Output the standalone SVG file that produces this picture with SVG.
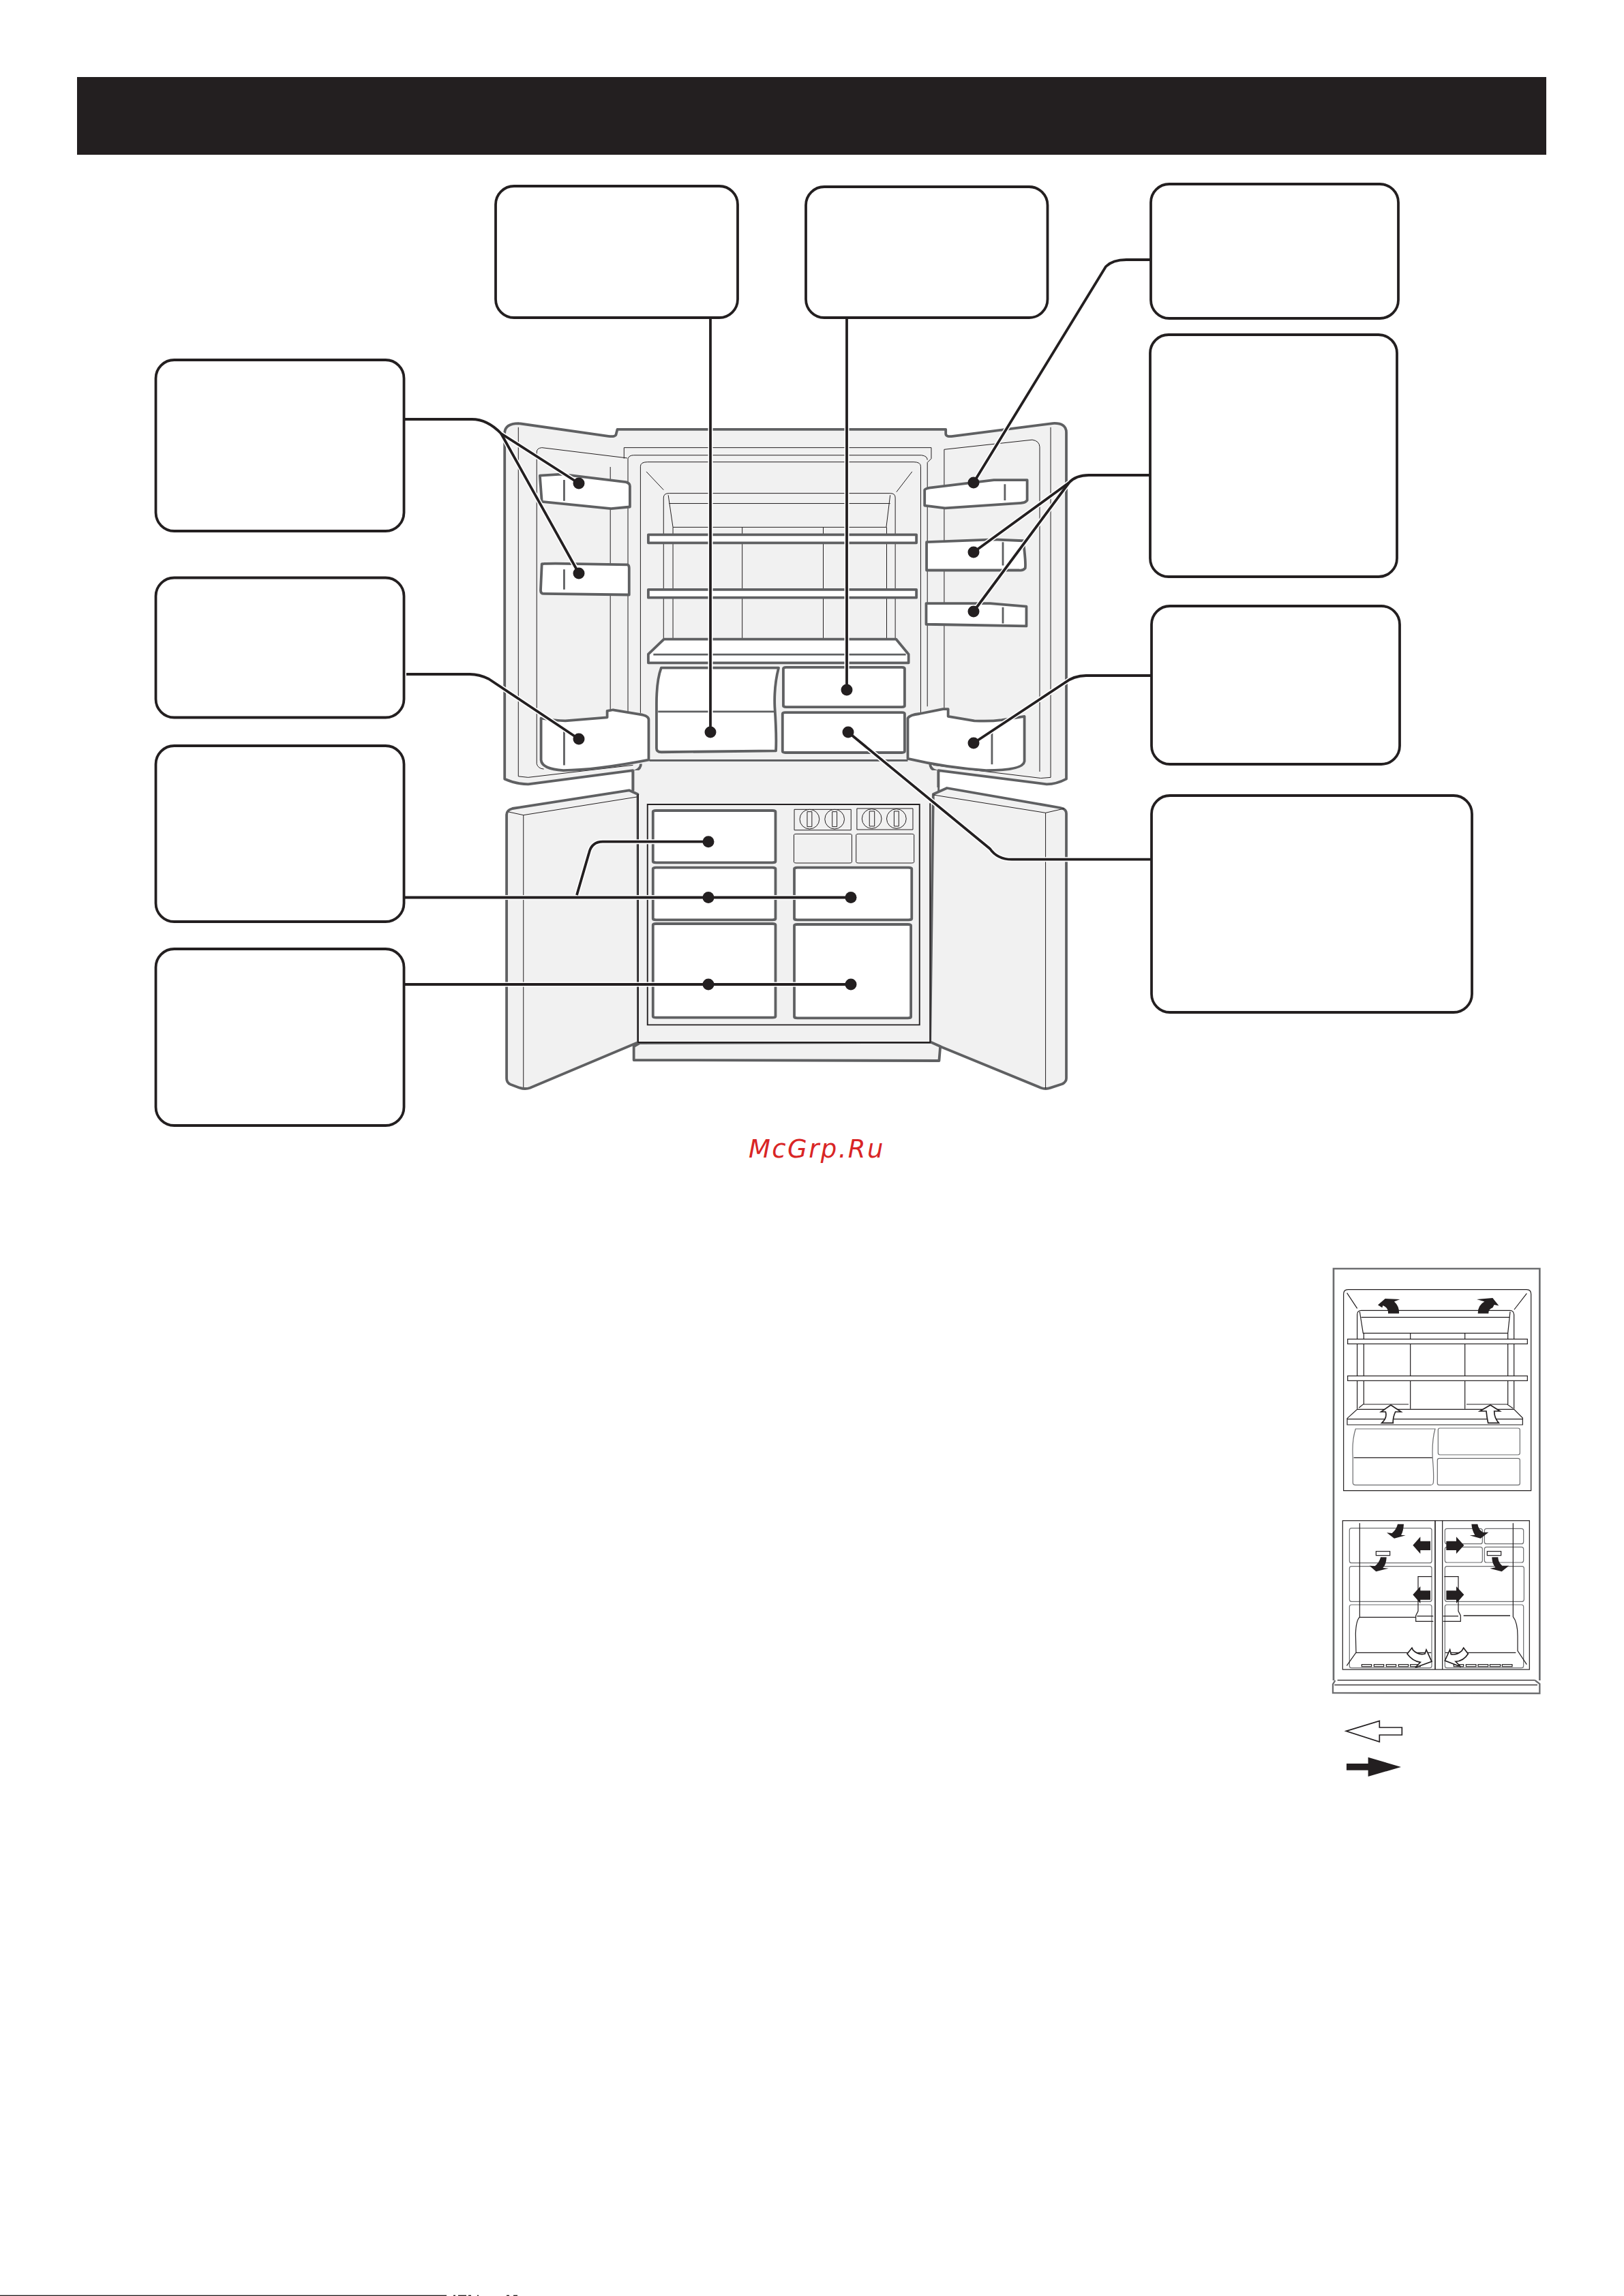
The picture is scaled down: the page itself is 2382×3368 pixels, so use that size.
<svg xmlns="http://www.w3.org/2000/svg" width="2382" height="3368" viewBox="0 0 2382 3368">
<style>
.fr *{vector-effect:non-scaling-stroke}
.g{fill:none;stroke:#5f6062;stroke-width:3.8;stroke-linejoin:round}
.gf{fill:#f1f1f1;stroke:#5f6062;stroke-width:3.8;stroke-linejoin:round}
.w{fill:#fff;stroke:#5f6062;stroke-width:3.8;stroke-linejoin:round}
.gm{stroke:#5f6062;stroke-width:2.8;fill:none}
.t{fill:none;stroke:#231f20;stroke-width:1}
.tf{fill:#f1f1f1;stroke:#231f20;stroke-width:1}
.k{fill:none;stroke:#231f20;stroke-width:1.9}
.box{fill:#fff;stroke:#231f20;stroke-width:3.8}
.con{fill:none;stroke:#231f20;stroke-width:3.8;stroke-linejoin:round}
.halo{fill:none;stroke:#fff;stroke-width:7;stroke-linejoin:round}
.dot{fill:#231f20}
.s{fill:none;stroke:#231f20;stroke-width:3.6}
.sg{fill:none;stroke:#6d6e70;stroke-width:3.6}
.sw{fill:#fff;stroke:#231f20;stroke-width:3.6}
.ab{fill:#231f20;stroke:none}
.aw{fill:#fff;stroke:#231f20;stroke-width:5;stroke-linejoin:miter}
.wm{font-family:"DejaVu Sans",sans-serif;font-style:oblique;font-size:37px;fill:#d92525;letter-spacing:2.4px}
</style>
<defs>
<path id="c-a" d="M1042 468V1074"/>
<path id="c-b" d="M1242 468V1012"/>
<path id="c-c" d="M1688 381H1652Q1632 381 1622 391L1428 708"/>
<path id="c-d1" d="M1687 697H1597Q1578 697 1568 708L1428 810"/>
<path id="c-d2" d="M1568 708L1428 897"/>
<path id="c-e1" d="M594 615H692Q715 615 735 636L849 709"/>
<path id="c-e2" d="M735 636L849 841"/>
<path id="c-f" d="M596 989H689Q703 989 717 996L849 1084"/>
<path id="c-g1" d="M594 1316.500H1248"/>
<path id="c-g2" d="M846 1313L864 1251Q868 1234.700 884 1234.700H1039"/>
<path id="c-h" d="M594 1444H1248"/>
<path id="c-i" d="M1689 991H1593Q1575 991 1561 1002L1428 1090"/>
<path id="c-j" d="M1689 1260.700H1484Q1463 1260.700 1452 1245L1244 1074"/>
</defs>
<rect id="header" x="113" y="113" width="2155" height="114" fill="#231f20"/>

<g id="fridge" class="fr">
<g id="fridge-upper" transform="translate(700,600) scale(0.5741,0.3827)">
<path class="gf" d="M70 90Q72 55 105 55L335 104Q355 108 355 95L358 78H1197V95Q1197 108 1215 104L1470 55Q1505 52 1505 90V1418Q1480 1438 1455 1438L1178 1385V1480H398V1385L130 1438Q100 1438 70 1418Z"/>
<path fill="#f1f1f1" d="M400 1380H1176V1568H400Z"/>
<path class="g" d="M398 1390L405 1386Q418 1378 418 1360M1178 1390L1170 1386Q1157 1378 1157 1360"/>
<path class="t" d="M105 70V1408L130 1412L398 1365M1465 70V1412L1440 1415L1165 1365"/>
<path class="t" d="M383 188L165 148Q152 150 152 165V1360Q155 1378 170 1380M1193 155L1418 118Q1436 122 1437 145V1390M340 222V1155M385 190V1170M1193 155V1170"/>
<path class="t" d="M375 190V148H1160V190L1150 205V1140M385 190Q388 177 400 177H1135Q1150 180 1150 195M417 1165V220Q417 203 435 203H1115Q1133 203 1133 220V1165"/>
<path class="t" d="M432 240L476 310M1111 240L1071 318M476 880V340Q476 323 490 323H1055Q1068 323 1068 340V880M488 330L500 453H1045L1055 330M490 362H1055M500 453V880M1046 453V880M677 453V880M884 453V880"/>
<rect class="w" x="437" y="482" width="685" height="31"/>
<rect class="w" x="437" y="692" width="685" height="31"/>
<path class="w" d="M437 940L477 882H1070L1102 940V973H437Z"/>
<path class="gm" d="M450 941H1095"/>
<path class="w" d="M470 992H770Q758 1060 760 1140Q765 1250 763 1310L470 1315Q458 1315 458 1300V1130Q458 1040 470 992Z"/>
<path class="gm" d="M462 1160H758"/>
<rect class="w" x="782" y="990" width="310" height="152" rx="7" ry="5"/>
<rect class="w" x="780" y="1163" width="312" height="154" rx="7" ry="5"/>
<path class="gm" d="M440 1347H1100"/>
<path class="w" d="M160 255L215 250L380 280Q390 285 390 295V375L342 382L165 355Z"/>
<path class="w" d="M165 595Q162 592 200 592L385 597Q388 600 388 610V712L170 708Q162 708 162 695Z"/>
<path class="w" d="M163 1185Q200 1195 225 1195L332 1182V1157L347 1153L415 1170Q438 1175 438 1190V1345Q300 1385 220 1385Q165 1380 163 1345Z"/>
<path class="w" d="M1143 310Q1145 305 1155 302L1320 272H1405V350Q1400 360 1390 360L1195 380L1143 370Z"/>
<path class="w" d="M1148 510L1320 500L1395 505Q1402 590 1400 610Q1395 620 1385 618H1148Z"/>
<path class="w" d="M1147 745L1310 745L1403 757V832L1147 825Z"/>
<path class="w" d="M1100 1185Q1105 1172 1130 1168L1190 1150H1203V1178L1270 1195Q1310 1198 1340 1192L1398 1178V1350Q1395 1385 1300 1385Q1200 1375 1100 1340Z"/>
<path class="gm" d="M222 272V352M222 615V692M222 1235V1365M1348 288V350M1343 510V600M1343 760V822M1315 1235V1362"/>
</g>
<g id="fridge-lower" transform="translate(700,1130) scale(0.5741,0.33333)">
<rect x="400" y="0" width="776" height="1197" fill="#f1f1f1"/>
<path class="g" d="M398 0V90M1178 0V75"/>
<path class="gf" d="M411 1197L135 1397Q123 1405 108 1397L85 1382Q75 1375 75 1355V195Q75 175 90 168L388 88L410 105Z"/>
<path class="gf" d="M1157 1197L1440 1397Q1452 1405 1465 1397L1495 1380Q1505 1370 1505 1355V190Q1505 170 1490 165L1200 78L1165 105Z"/>
<path class="gf" d="M415 1200L400 1215V1275L1180 1278L1183 1215L1160 1197Z"/>
<rect x="412" y="108" width="744" height="1088" fill="#f1f1f1"/>
<path class="k" d="M411 105V1197H1157V145"/>
<path class="t" d="M80 183L118 197L408 117M118 197V1395M1165 108L1452 187L1500 168M1452 187V1400"/>
<rect class="tf" style="stroke-width:1.9" x="435" y="150" width="695" height="970"/>
<rect class="w" x="449" y="177" width="313" height="229" rx="8" ry="5"/>
<rect class="w" x="449" y="428" width="313" height="230" rx="8" ry="5"/>
<rect class="w" x="810" y="428" width="300" height="230" rx="8" ry="5"/>
<rect class="w" x="449" y="675" width="313" height="413" rx="8" ry="5"/>
<rect class="w" x="810" y="678" width="298" height="412" rx="8" ry="5"/>
<rect class="tf" x="810" y="172" width="145" height="91"/>
<rect class="tf" x="970" y="168" width="143" height="93"/>
<rect class="tf" x="809" y="280" width="148" height="128" rx="6" ry="4"/>
<rect class="tf" x="968" y="280" width="148" height="128" rx="6" ry="4"/>
<ellipse class="tf" cx="849" cy="215" rx="25" ry="43"/><rect class="tf" x="843" y="182" width="12" height="66"/>
<ellipse class="tf" cx="913" cy="215" rx="25" ry="43"/><rect class="tf" x="907" y="182" width="12" height="66"/>
<ellipse class="tf" cx="1008" cy="213" rx="25" ry="43"/><rect class="tf" x="1002" y="180" width="13" height="66"/>
<ellipse class="tf" cx="1071" cy="213" rx="25" ry="43"/><rect class="tf" x="1065" y="180" width="12" height="66"/>
</g>
</g>

<g id="connectors">
<use href="#c-a" class="halo"/><use href="#c-b" class="halo"/><use href="#c-c" class="halo"/><use href="#c-d1" class="halo"/><use href="#c-d2" class="halo"/><use href="#c-e1" class="halo"/><use href="#c-e2" class="halo"/><use href="#c-f" class="halo"/><use href="#c-g1" class="halo"/><use href="#c-g2" class="halo"/><use href="#c-h" class="halo"/><use href="#c-i" class="halo"/><use href="#c-j" class="halo"/>
<use href="#c-a" class="con"/><use href="#c-b" class="con"/><use href="#c-c" class="con"/><use href="#c-d1" class="con"/><use href="#c-d2" class="con"/><use href="#c-e1" class="con"/><use href="#c-e2" class="con"/><use href="#c-f" class="con"/><use href="#c-g1" class="con"/><use href="#c-g2" class="con"/><use href="#c-h" class="con"/><use href="#c-i" class="con"/><use href="#c-j" class="con"/>
<g class="dot">
<circle cx="1042" cy="1074" r="8.500"/><circle cx="1242" cy="1012" r="8.500"/><circle cx="1428" cy="708" r="8.500"/><circle cx="1428" cy="810" r="8.500"/><circle cx="1428" cy="897" r="8.500"/><circle cx="849" cy="709" r="8.500"/><circle cx="849" cy="841" r="8.500"/><circle cx="849" cy="1084" r="8.500"/><circle cx="1428" cy="1090" r="8.500"/><circle cx="1244" cy="1074" r="8.500"/>
<circle cx="1039" cy="1234.700" r="8.500"/><circle cx="1039" cy="1316.500" r="8.500"/><circle cx="1248" cy="1316.500" r="8.500"/><circle cx="1039" cy="1444" r="8.500"/><circle cx="1248" cy="1444" r="8.500"/>
</g>
</g>

<g id="node-a"><rect class="box" x="727" y="273" width="355" height="193" rx="27"/></g>
<g id="node-b"><rect class="box" x="1182" y="274" width="354.500" height="192" rx="27"/></g>
<g id="node-c"><rect class="box" x="1688" y="270" width="363" height="197" rx="27"/></g>
<g id="node-d"><rect class="box" x="1687" y="491" width="362" height="355" rx="27"/></g>
<g id="node-e"><rect class="box" x="228.500" y="528" width="364" height="251" rx="27"/></g>
<g id="node-f"><rect class="box" x="228.500" y="847.500" width="364" height="205" rx="27"/></g>
<g id="node-g"><rect class="box" x="228.500" y="1094" width="364" height="258" rx="27"/></g>
<g id="node-h"><rect class="box" x="228.500" y="1392" width="364" height="259" rx="27"/></g>
<g id="node-i"><rect class="box" x="1689" y="889" width="364" height="232" rx="27"/></g>
<g id="node-j"><rect class="box" x="1689" y="1167" width="470" height="318" rx="27"/></g>

<text id="watermark" class="wm" x="1098" y="1698">McGrp.Ru</text>

<g id="airflow">
<g id="airflow-upper" transform="translate(1940,1850) scale(0.33333)">
<path style="fill:none;stroke:#6d6e70;stroke-width:8" d="M48 1845V33H955V1845"/>
<path class="s" d="M92 145Q92 125 112 125H897Q917 125 917 145V1010H92Z"/>
<path class="s" d="M107 140L152 208M898 142L843 213M152 650V235Q152 217 170 217H825Q840 217 842 235V650M163 222L178 317H815L825 222M170 247H822M181 317V630M386 317V650M626 317V650M815 317V630"/>
<path class="s" d="M160 645L178 630H378M633 630H812L838 648"/>
<rect class="sw" x="110" y="343" width="791" height="21"/>
<rect class="sw" x="110" y="505" width="791" height="21"/>
<path class="sw" d="M108 692L152 652H842L880 690V720H108Z"/>
<path class="s" d="M108 695H880"/>
<path class="sg" d="M145 738H495Q480 790 484 870Q490 940 487 975Q485 985 475 985H145Q133 985 133 975V865Q128 790 145 738Z"/>
<path class="s" d="M137 865H482"/>
<rect class="sg" x="508" y="735" width="360" height="117" rx="8"/>
<rect class="sg" x="505" y="868" width="363" height="117" rx="8"/>
<path class="ab" d="M288 230Q290 205 265 195L262 205L243 193L275 165L340 168L315 178Q338 200 336 230Z"/>
<path class="ab" d="M683 230Q682 195 712 178L678 168L748 162L775 196L755 192L748 205Q730 210 730 230Z"/>
<path class="aw" d="M260 712Q285 690 277 663H257L300 633L345 663H320Q308 690 310 712Z"/>
<path class="aw" d="M728 712Q722 685 720 660H692L738 633L780 660H755Q755 690 775 712Z"/>
</g>
<g id="airflow-lower" transform="translate(1940,2200) scale(0.33333)">
<rect class="s" x="88" y="92" width="822" height="655"/>
<path class="s" style="stroke-width:5" d="M495 92V747"/>
<path class="s" d="M527 92V747"/>
<g class="sg">
<rect x="118" y="125" width="362" height="153" rx="9"/><rect x="118" y="293" width="362" height="155" rx="9"/><rect x="118" y="462" width="362" height="278" rx="9"/>
<rect x="538" y="127" width="165" height="67" rx="9"/><rect x="712" y="127" width="172" height="67" rx="9"/><rect x="538" y="208" width="165" height="68" rx="9"/><rect x="712" y="208" width="172" height="68" rx="9"/><rect x="538" y="293" width="348" height="155" rx="9"/><rect x="538" y="462" width="346" height="278" rx="9"/>
</g>
<path class="s" d="M163 103V517Q147 530 145 590L147 672L106 730M163 517H410M147 673H478M838 103V515Q858 540 858 600V665L898 725M540 673H850"/>
<path class="s" style="stroke-width:5" d="M620 510H825"/>
<path class="s" d="M480 338H420V490L410 510V535H487M535 338H597V490L607 510V535H530M415 512H487M530 512H597"/>
<g class="sw">
<rect x="235" y="227" width="61" height="18"/><rect x="724" y="227" width="61" height="18"/>
<rect x="172" y="725" width="43" height="9"/><rect x="226" y="725" width="43" height="9"/><rect x="280" y="725" width="43" height="9"/><rect x="334" y="725" width="43" height="9"/><rect x="386" y="725" width="44" height="9"/>
<rect x="577" y="725" width="43" height="9"/><rect x="631" y="725" width="44" height="9"/><rect x="684" y="725" width="44" height="9"/><rect x="736" y="725" width="46" height="9"/><rect x="790" y="725" width="44" height="9"/>
</g>
<g class="ab">
<path d="M474 182V222H430V238L397 200L430 163V182Z"/><path d="M474 400V440H430V456L397 418L430 381V400Z"/>
<path d="M544 182H588V163L622 200L588 238V222H544Z"/><path d="M544 400H588V381L622 418L588 456V440H544Z"/>
<path d="M330 107H357Q355 140 345 155L365 157L315 170L282 145L305 147Q325 130 330 107Z"/>
<path d="M255 253H281Q280 285 265 300L290 302L235 316L206 290L230 292Q250 275 255 253Z"/>
<path d="M655 107H682Q685 130 705 143L730 143L695 170L647 157L670 155Q657 135 655 107Z"/>
<path d="M745 253H772Q772 275 790 290L820 290L788 316L736 302L760 298Q745 280 745 253Z"/>
</g>
<path class="aw" d="M372 678L393 652L398 662Q420 685 450 678L456 660L480 712L408 738L430 715Q395 710 372 678Z"/>
<path class="aw" d="M640 678L620 652L612 665Q590 685 565 680L560 660L538 708L608 735L585 712Q620 710 640 678Z"/>
<path class="sg" style="stroke-width:7" d="M55 795L45 812V850L955 852V810L935 795"/>
<path class="s" d="M65 794H935M52 815H945"/>
<path class="aw" d="M103 1018L250 973V1002H349V1035H250V1065Z"/>
<path class="ab" d="M105 1161H200V1133L345 1176L200 1218V1190H105Z"/>
</g>
</g>
<g id="footer-rule" fill="#231f20">
<rect x="0" y="3366.700" width="655" height="1.300"/>
<rect x="665" y="3366.700" width="3" height="1.300"/><rect x="672" y="3366.700" width="12" height="1.300"/><rect x="687" y="3366.700" width="4" height="1.300"/><rect x="700" y="3366.700" width="2" height="1.300"/><rect x="743" y="3366.700" width="4" height="1.300"/><rect x="753" y="3366.700" width="6" height="1.300"/>
</g>
</svg>
